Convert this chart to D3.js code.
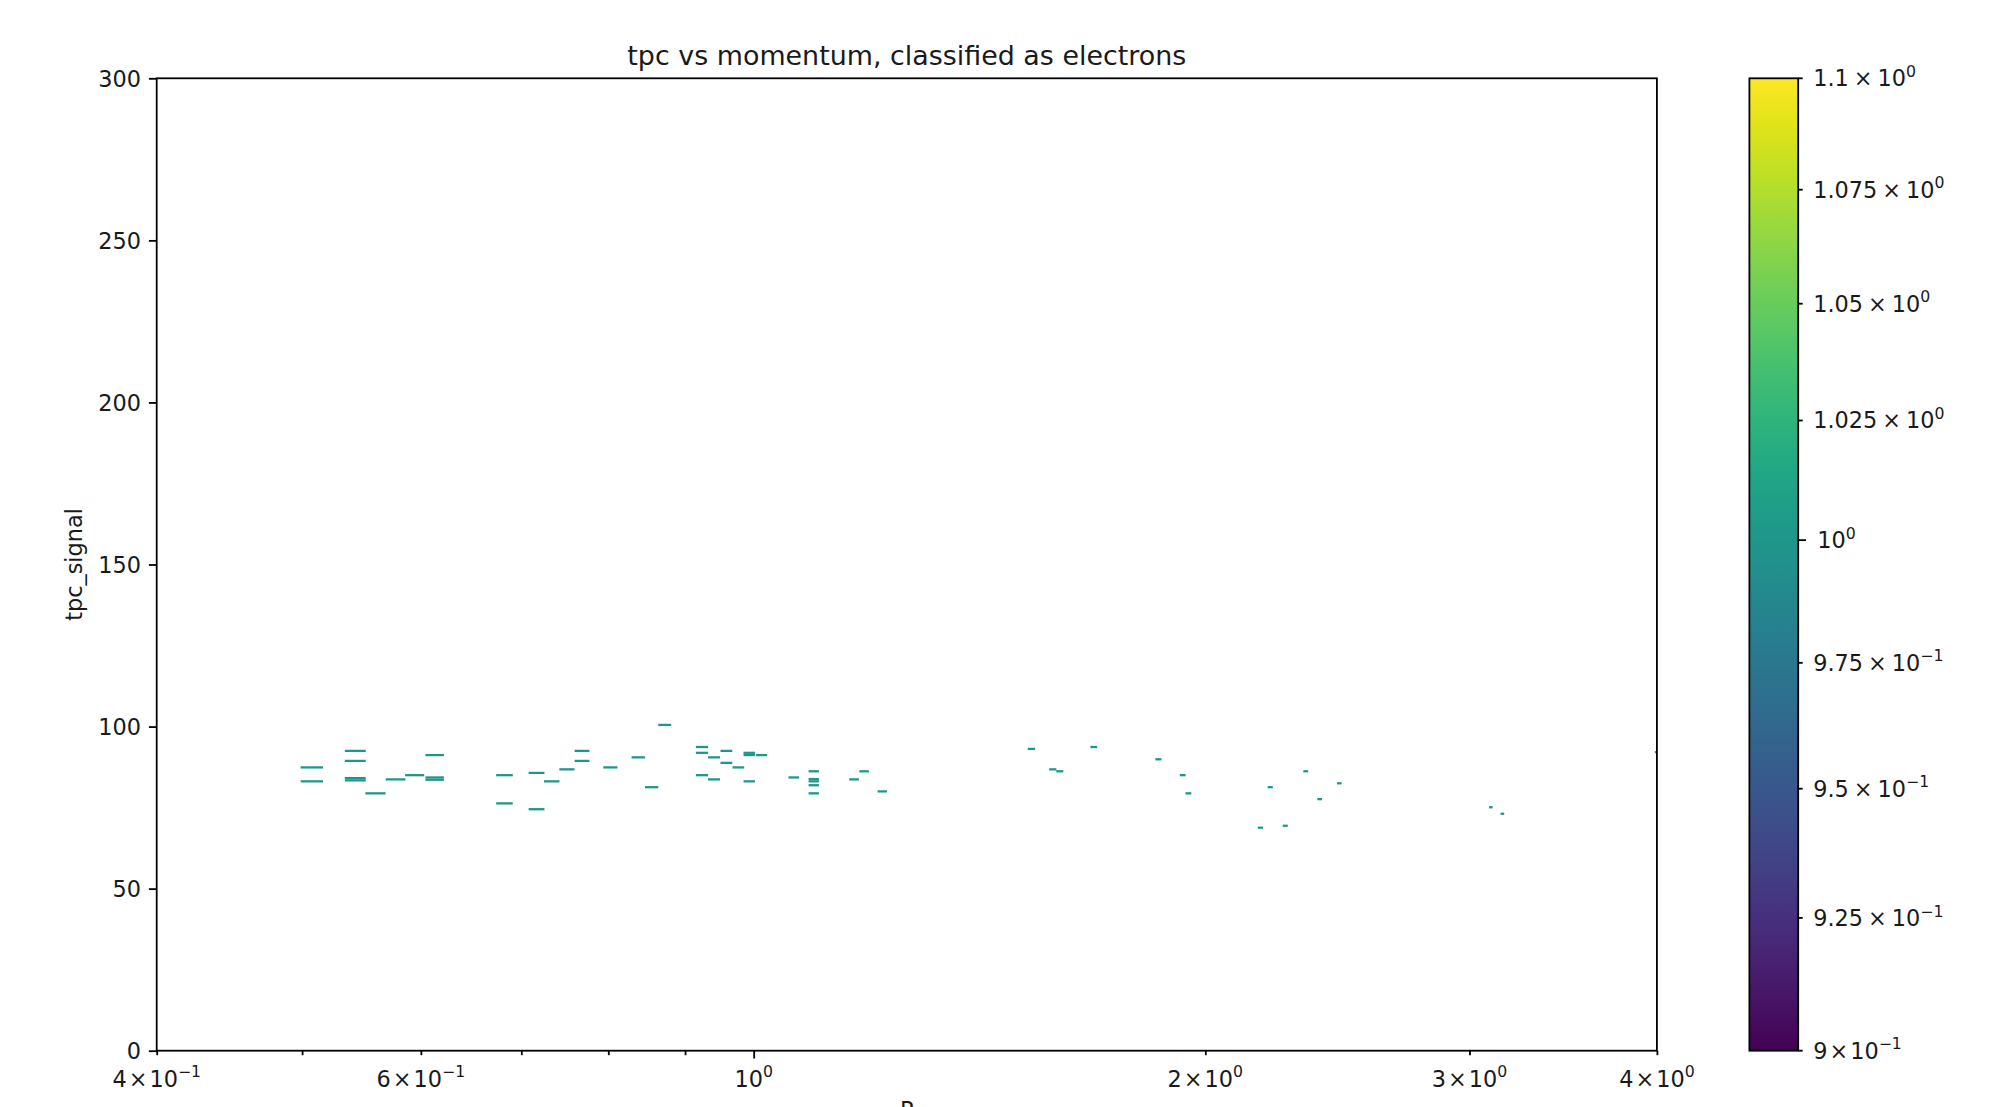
<!DOCTYPE html>
<meta charset="utf-8">
<title>tpc vs momentum</title>
<style>
body { margin: 0; background: #fff; }
svg { display: block; }
text { font-family: "DejaVu Sans", sans-serif; fill: #1a1a1a; }
</style>
<svg id="chart"></svg>
<script src="https://cdn.jsdelivr.net/npm/d3@7"></script>
<script>
// hist2d cells (bin centres), every filled cell has count 1
const momentum = [0.5076, 0.5076, 0.5426, 0.5426, 0.5426, 0.5426, 0.5597, 0.5772, 0.5944, 0.6129,
  0.6129, 0.6129, 0.6822, 0.6822, 0.7166, 0.7166, 0.7335, 0.7508, 0.7684, 0.7684,
  0.8026, 0.8378, 0.8551, 0.8724, 0.9238, 0.9238, 0.9238, 0.9410, 0.9410, 0.9590,
  0.9590, 0.9768, 0.9932, 0.9932, 1.0122, 0.9932, 1.0635, 1.0966, 1.0966, 1.0966,
  1.0966, 1.0966, 1.1666, 1.1847, 1.2182, 1.5316, 1.5826, 1.5997, 1.6854, 1.8611,
  1.9319, 1.9488, 2.1766, 2.2097, 2.2612, 2.3334, 2.3839, 2.4567, 3.0999, 3.1554,
  3.996];
const tpcSignal = [87.4, 83.1, 92.5, 89.4, 84.1, 83.4, 79.4, 83.7, 85.0, 91.2,
  84.3, 83.6, 85.0, 76.3, 85.7, 74.5, 83.1, 86.8, 92.5, 89.4,
  87.4, 90.5, 81.3, 100.5, 93.7, 91.9, 85.0, 90.5, 83.7, 92.5,
  88.8, 87.4, 91.9, 91.2, 91.2, 83.1, 84.3, 86.2, 83.8, 83.1,
  81.9, 79.4, 83.7, 86.2, 80.0, 93.1, 86.8, 86.2, 93.7, 89.9,
  85.0, 79.4, 68.8, 81.3, 69.4, 86.2, 77.6, 82.5, 75.1, 73.1,
  92.1];
const cellCount = 1;
const binWidth = 0.0174;   // momentum bin width
const binHeight = 0.7;     // tpc bin height

const yTicks = [0, 50, 100, 150, 200, 250, 300];
const xMajorTicks = [1];
const xMinorTicks = [0.4, 0.5, 0.6, 0.7, 0.8, 0.9, 2, 3, 4];
const xTickLabels = [
  {v: 0.4, m: "4", e: "\u22121"},
  {v: 0.6, m: "6", e: "\u22121"},
  {v: 1, m: null, e: "0"},
  {v: 2, m: "2", e: "0"},
  {v: 3, m: "3", e: "0"},
  {v: 4, m: "4", e: "0"}
];
const cbarTicks = [
  {v: 0.9, m: "9", e: "\u22121"},
  {v: 0.925, m: "9.25", e: "\u22121"},
  {v: 0.95, m: "9.5", e: "\u22121"},
  {v: 0.975, m: "9.75", e: "\u22121"},
  {v: 1.0, m: null, e: "0"},
  {v: 1.025, m: "1.025", e: "0"},
  {v: 1.05, m: "1.05", e: "0"},
  {v: 1.075, m: "1.075", e: "0"},
  {v: 1.1, m: "1.1", e: "0"}
];

var width = 2014, height = 1107;
var m = {left: 156.7, right: 1656.9, top: 78.3, bottom: 1050.7};
var cb = {left: 1749.4, right: 1798.2};
var fs = 22.4;

var svg = d3.select('#chart').attr('width', width).attr('height', height);

var x = d3.scaleLog().domain([0.4, 4]).range([m.left, m.right]);
var y = d3.scaleLinear().domain([0, 300]).range([m.bottom, m.top]);
var cNorm = d3.scaleLog().domain([0.9, 1.1]).range([0, 1]);
var cY = d3.scaleLog().domain([0.9, 1.1]).range([m.bottom, m.top]);

function sciLabel(t, mant, exp, gap) {
  if (mant !== null) {
    t.append('tspan').text(mant);
    t.append('tspan').attr('dx', gap).text('\u00d7');
    t.append('tspan').attr('dx', gap).text('10');
  } else {
    t.append('tspan').text('10');
  }
  t.append('tspan').attr('dy', -0.42 * fs).attr('font-size', 0.7 * fs).text(exp);
}

// cells
svg.append('clipPath').attr('id', 'clip').append('rect')
  .attr('x', m.left).attr('y', m.top)
  .attr('width', m.right - m.left).attr('height', m.bottom - m.top);

var cells = momentum.map((p, i) => ({p: p, s: tpcSignal[i], n: cellCount}));
svg.append('g').attr('clip-path', 'url(#clip)')
  .selectAll('rect').data(cells).enter().append('rect')
  .attr('x', d => x(d.p - binWidth / 2))
  .attr('width', d => x(d.p + binWidth / 2) - x(d.p - binWidth / 2))
  .attr('y', d => y(d.s + binHeight / 2))
  .attr('height', d => y(d.s - binHeight / 2) - y(d.s + binHeight / 2))
  .attr('fill', d => d3.interpolateViridis(cNorm(d.n)));

// axes
var yAxis = svg.append('g').attr('transform', `translate(${m.left},0)`)
  .call(d3.axisLeft(y).tickValues(yTicks).tickSize(7.8).tickPadding(7.8));
yAxis.selectAll('text').attr('font-size', fs).attr('font-family', 'DejaVu Sans').attr('dy', '0.36em');

var xMaj = svg.append('g').attr('transform', `translate(0,${m.bottom})`)
  .call(d3.axisBottom(x).tickValues(xMajorTicks).tickSize(7.8).tickFormat(''));
var xMin = svg.append('g').attr('transform', `translate(0,${m.bottom})`)
  .call(d3.axisBottom(x).tickValues(xMinorTicks).tickSize(4.5).tickFormat(''));
[xMaj, xMin, yAxis].forEach(g => {
  g.select('.domain').remove();
  g.selectAll('line').attr('stroke', '#000').attr('stroke-width', 1.8);
});

svg.append('g').selectAll('text').data(xTickLabels).enter().append('text')
  .attr('x', d => x(d.v)).attr('y', m.bottom + 36)
  .attr('text-anchor', 'middle').attr('font-size', fs)
  .each(function(d) { sciLabel(d3.select(this), d.m, d.e, 2); });

// frame
svg.append('rect')
  .attr('x', m.left).attr('y', m.top)
  .attr('width', m.right - m.left).attr('height', m.bottom - m.top)
  .attr('fill', 'none').attr('stroke', '#000').attr('stroke-width', 1.8);

// title and labels
svg.append('text').attr('x', (m.left + m.right) / 2).attr('y', 64.5)
  .attr('text-anchor', 'middle').attr('font-size', 26.9)
  .text('tpc vs momentum, classified as electrons');
svg.append('text').attr('transform', `translate(74.5,${(m.top + m.bottom) / 2}) rotate(-90)`)
  .attr('text-anchor', 'middle').attr('dy', '0.35em').attr('font-size', fs)
  .text('tpc_signal');
svg.append('text').attr('x', (m.left + m.right) / 2).attr('y', 1118)
  .attr('text-anchor', 'middle').attr('font-size', fs).text('P');

// colorbar
var grad = svg.append('defs').append('linearGradient').attr('id', 'vir')
  .attr('x1', 0).attr('y1', 1).attr('x2', 0).attr('y2', 0);
d3.range(0, 1.0001, 0.05).forEach(t => {
  grad.append('stop').attr('offset', t).attr('stop-color', d3.interpolateViridis(t));
});
svg.append('rect')
  .attr('x', cb.left).attr('y', m.top)
  .attr('width', cb.right - cb.left).attr('height', m.bottom - m.top)
  .attr('fill', 'url(#vir)').attr('stroke', '#000').attr('stroke-width', 1.8);

var cAxis = svg.append('g').attr('transform', `translate(${cb.right},0)`);
cAxis.selectAll('line').data(cbarTicks).enter().append('line')
  .attr('x1', 0).attr('x2', d => d.v === 1 ? 7.8 : 4.5)
  .attr('y1', d => cY(d.v)).attr('y2', d => cY(d.v))
  .attr('stroke', '#000').attr('stroke-width', 1.8);
cAxis.selectAll('text').data(cbarTicks).enter().append('text')
  .attr('x', d => d.v === 1 ? 19 : 15).attr('y', d => cY(d.v) + 8)
  .attr('font-size', fs)
  .each(function(d) { sciLabel(d3.select(this), d.m, d.e, d.v === 0.9 ? 2 : 5); });
</script>
